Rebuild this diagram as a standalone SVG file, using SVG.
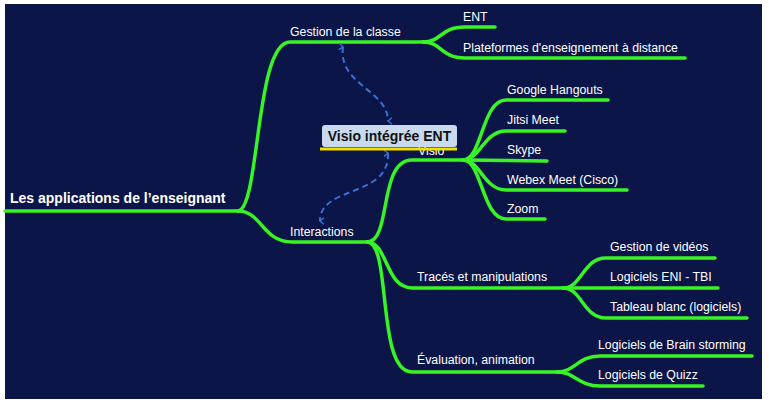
<svg xmlns="http://www.w3.org/2000/svg" width="769" height="404" viewBox="0 0 769 404">
<defs>
<style>
.br{fill:none;stroke:#38f425;stroke-width:3.5;stroke-linecap:round;stroke-linejoin:round}
.t{font-family:"Liberation Sans",Arial,sans-serif;font-size:12.3px;fill:#ffffff}
.root{font-family:"Liberation Sans",Arial,sans-serif;font-size:14px;font-weight:bold;fill:#ffffff}
.rel{fill:none;stroke:#3d6fd6;stroke-width:2;stroke-dasharray:6,4}
.box{font-family:"Liberation Sans",Arial,sans-serif;font-size:14px;font-weight:bold;fill:#111111}
</style>
<marker id="chev" viewBox="0 0 10 10" refX="5" refY="8" markerWidth="8" markerHeight="8" orient="auto-start-reverse" markerUnits="userSpaceOnUse">
<path d="M1,3 L5,8 L9,3" fill="none" stroke="#3d6fd6" stroke-width="1.8"/>
</marker>
</defs>
<rect x="0" y="0" width="769" height="404" fill="#ffffff"/>
<rect x="5" y="4" width="757" height="395" fill="#0b1548"/>
<g id="connectors">
<path class="br" d="M5,211 L238,211"/>
<path class="br" d="M238,211 C260,209 255,42 290,42 L423,42"/>
<path class="br" d="M238,211 C262,211 262,242 292,242 L367,242"/>
<path class="br" d="M423,42 C442,42 440,27 465,27 L495,27"/>
<path class="br" d="M423,42 C442,42 440,58 465,58 L685,58"/>
<path class="br" d="M367,242 C392,242 378,160 412,160 L463,160"/>
<path class="br" d="M463,160 C482,160 482,100 506,100 L608,100"/>
<path class="br" d="M463,160 C480,160 484,131 506,131 L565,131"/>
<path class="br" d="M463,160 L547,161"/>
<path class="br" d="M463,160 C480,160 484,190 506,190 L627,190"/>
<path class="br" d="M463,160 C482,160 482,219 506,219 L545,219"/>
<path class="br" d="M367,242 C388,242 385,288 412,288 L563,288"/>
<path class="br" d="M367,242 C392,242 376,372 412,372 L557,372"/>
<path class="br" d="M563,288 C582,288 583,258 606,258 L715,258"/>
<path class="br" d="M563,288 L718,288"/>
<path class="br" d="M563,288 C582,288 583,318 606,318 L747,318"/>
<path class="br" d="M557,372 C575,372 578,356 600,356 L752,356"/>
<path class="br" d="M557,372 C575,372 578,386 600,386 L703,386"/>
<path class="rel" d="M343,47 C338,85 388,90 388,121" marker-start="url(#chev)" marker-end="url(#chev)"/>
<path class="rel" d="M388,153 C390,198 320,185 320,221" marker-start="url(#chev)" marker-end="url(#chev)"/>
</g>
<g id="root"><text class="root" x="10" y="203">Les applications de l’enseignant</text></g>
<g id="gestion"><text class="t" x="290" y="36">Gestion de la classe</text></g>
<g id="ent"><text class="t" x="463" y="21">ENT</text></g>
<g id="plateformes"><text class="t" x="463" y="52">Plateformes d'enseignement à distance</text></g>
<g id="interactions"><text class="t" x="290" y="236">Interactions</text></g>
<g id="visio"><text class="t" x="418" y="155">Visio</text></g>
<g id="google"><text class="t" x="507" y="94">Google Hangouts</text></g>
<g id="jitsi"><text class="t" x="507" y="124">Jitsi Meet</text></g>
<g id="skype"><text class="t" x="507" y="154">Skype</text></g>
<g id="webex"><text class="t" x="507" y="184">Webex Meet (Cisco)</text></g>
<g id="zoom"><text class="t" x="507" y="213">Zoom</text></g>
<g id="traces"><text class="t" x="417" y="281">Tracés et manipulations</text></g>
<g id="videos"><text class="t" x="610" y="251">Gestion de vidéos</text></g>
<g id="eni"><text class="t" x="610" y="281">Logiciels ENI - TBI</text></g>
<g id="tableau"><text class="t" x="610" y="311">Tableau blanc (logiciels)</text></g>
<g id="evaluation"><text class="t" x="417" y="364">Évaluation, animation</text></g>
<g id="brain"><text class="t" x="598" y="349">Logiciels de Brain storming</text></g>
<g id="quizz"><text class="t" x="598" y="379">Logiciels de Quizz</text></g>
<g id="visio-ent">
<rect x="322" y="125" width="135" height="22" rx="3" fill="#c9d9ee"/>
<line x1="320" y1="149" x2="457" y2="149" stroke="#f2e000" stroke-width="3"/>
<text class="box" x="389.5" y="141" text-anchor="middle">Visio intégrée ENT</text>
</g>
</svg>
